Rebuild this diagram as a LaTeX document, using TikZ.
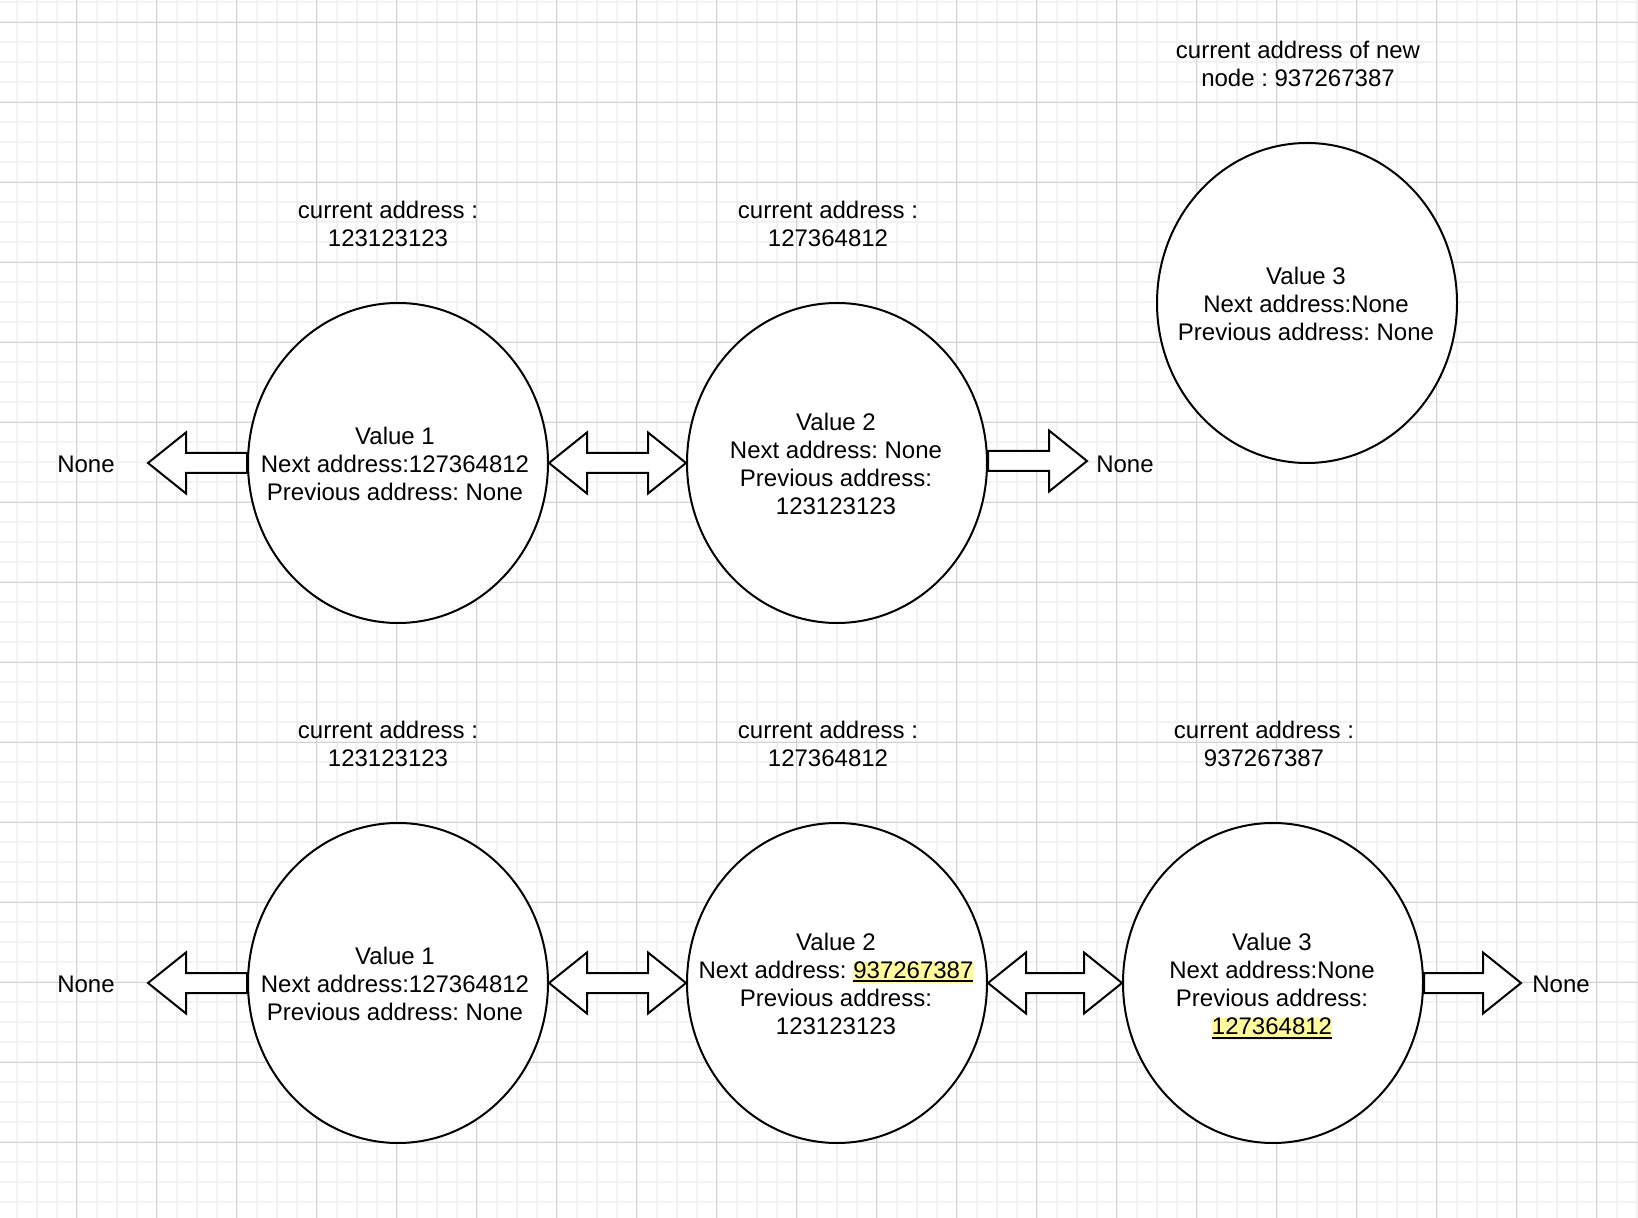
\documentclass[tikz,border=0pt]{standalone}
\usepackage{fontspec}
\setmainfont{Liberation Sans}
\usetikzlibrary{shapes.geometric,calc}
\frenchspacing

\definecolor{gridmajor}{HTML}{D2D2D2}
\definecolor{gridminor}{HTML}{F2F2F2}
\definecolor{hly}{HTML}{FFF99E}

% highlighted, underlined address
\newsavebox\hlbox
\newcommand{\hl}[1]{\sbox\hlbox{#1}\smash{\fboxsep=0pt\colorbox{hly}{\rule[-2.5pt]{0pt}{10.5pt}\rlap{\rule[-1.8pt]{\wd\hlbox}{0.9pt}}\usebox\hlbox}}}

% block arrows: double (tip to tip), right / left (tail to tip)
\newcommand{\dblarrow}[2]{\draw[blk] (#1) -- ++(38,-30.5) -- ++(0,20.5) -- ($(#2)+(-38,-10)$) -- ++(0,-20.5) -- (#2) -- ++(-38,30.5) -- ++(0,-20.5) -- ($(#1)+(38,10)$) -- ++(0,20.5) -- cycle;}
\newcommand{\rarrow}[2]{\draw[blk] ($(#1)+(0,-10)$) -- ($(#2)+(-38,-10)$) -- ++(0,-20.5) -- (#2) -- ++(-38,30.5) -- ++(0,-20.5) -- ($(#1)+(0,10)$) -- cycle;}
\newcommand{\larrow}[2]{\draw[blk] ($(#1)+(0,-10)$) -- ($(#2)+(38,-10)$) -- ++(0,-20.5) -- (#2) -- ++(38,30.5) -- ++(0,-20.5) -- ($(#1)+(0,10)$) -- cycle;}

\begin{document}
\begin{tikzpicture}[x=0.5pt,y=-0.5pt,
  cell/.style={ellipse,draw,line width=1pt,fill=white,minimum width=150pt,minimum height=160pt,inner sep=0pt},
  txt/.style={align=center,font=\fontsize{12}{14.1}\selectfont,inner sep=0pt},
  blk/.style={draw,line width=1pt,fill=white,line join=miter}]

% canvas and grid
\fill[white] (0,0) rectangle (1638,1218);
\useasboundingbox (0,0) rectangle (1638,1218);
\foreach \i in {0,...,81} \draw[gridminor,line width=1pt] ({16.7+20*\i},0) -- ({16.7+20*\i},1218);
\foreach \i in {0,...,60} \draw[gridminor,line width=1pt] (0,{2.3+20*\i}) -- (1638,{2.3+20*\i});
\foreach \i in {0,...,19} \draw[gridmajor,line width=0.5pt] ({76.7+80*\i},0) -- ({76.7+80*\i},1218);
\foreach \i in {0,...,14} \draw[gridmajor,line width=0.5pt] (0,{22.3+80*\i}) -- (1638,{22.3+80*\i});

% ---- list before insertion ----
\node[cell] (a1) at (398,463) {};
\node[cell] (a2) at (837,463) {};
\node[cell] (a3) at (1307,303) {};
\node[txt] at (395,464) {Value 1\\Next address:127364812\\Previous address: None};
\node[txt] at (836,464) {Value 2\\Next address: None\\Previous address:\\123123123};
\node[txt] at (1306,304) {Value 3\\Next address:None\\Previous address: None};

\node[txt] (la1) at (388,224) {current address :\\123123123};
\node[txt] (la2) at (828,224) {current address :\\127364812};
\node[txt] (la3) at (1298,64) {current address of new\\node : 937267387};

\node[txt] (na) at (86,464) {None};
\node[txt] (nb) at (1125,464) {None};
\coordinate (ta) at (148,463);
\coordinate (tb) at (1087,461);

\larrow{a1.west}{ta}
\dblarrow{a1.east}{a2.west}
\rarrow{$(a2.east)+(0,-2)$}{tb}

% ---- list after insertion ----
\node[cell] (b1) at (398,983) {};
\node[cell] (b2) at (837,983) {};
\node[cell] (b3) at (1273,983) {};
\node[txt] at (395,984) {Value 1\\Next address:127364812\\Previous address: None};
\node[txt] at (836,984) {Value 2\\Next address: \hl{937267387}\\Previous address:\\123123123};
\node[txt] at (1272,984) {Value 3\\Next address:None\\Previous address:\\\hl{127364812}};

\node[txt] (lb1) at (388,744) {current address :\\123123123};
\node[txt] (lb2) at (828,744) {current address :\\127364812};
\node[txt] (lb3) at (1264,744) {current address :\\937267387};

\node[txt] (nc) at (86,984) {None};
\node[txt] (nd) at (1561,984) {None};
\coordinate (tc) at (148,983);
\coordinate (td) at (1521,983);

\larrow{b1.west}{tc}
\dblarrow{b1.east}{b2.west}
\dblarrow{b2.east}{b3.west}
\rarrow{b3.east}{td}

\end{tikzpicture}
\end{document}
